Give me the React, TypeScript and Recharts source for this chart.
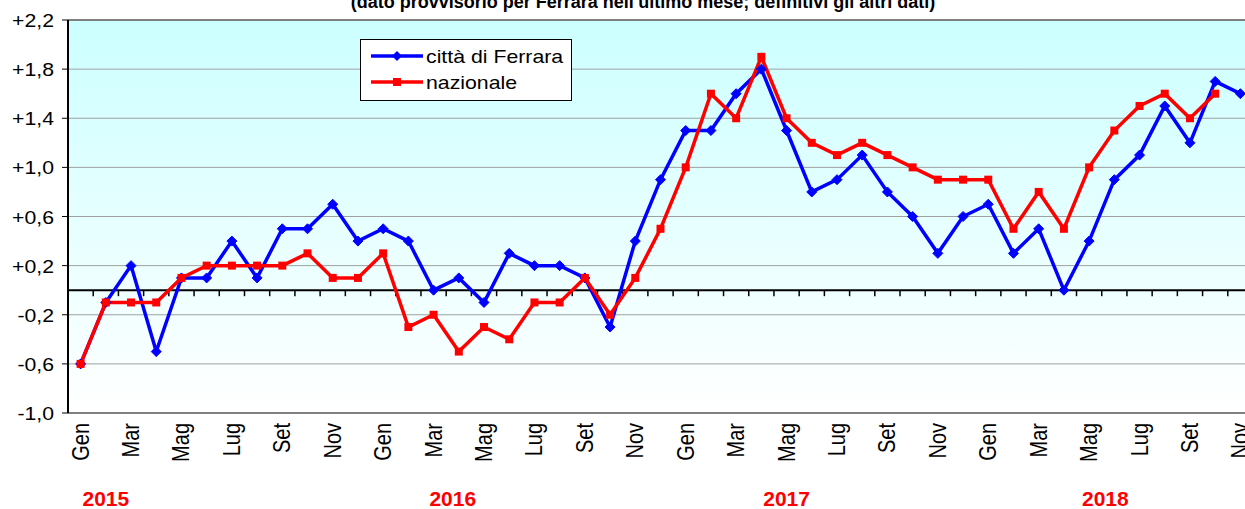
import { LineChart, Line, XAxis, YAxis, CartesianGrid, ReferenceLine } from 'recharts';

const monthNames = ['Gen', 'Feb', 'Mar', 'Apr', 'Mag', 'Giu', 'Lug', 'Ago', 'Set', 'Ott', 'Nov', 'Dic'];
const years = ['2015', '2016', '2017', '2018'];
// month index where each year label sits
const yearLabelIdx = [1, 15, 28, 41];

// variazioni tendenziali, Gen 2015 .. Nov 2018
const ferrara = [
  -0.6, -0.1, 0.2, -0.5, 0.1, 0.1, 0.4, 0.1, 0.5, 0.5, 0.7, 0.4,
  0.5, 0.4, 0.0, 0.1, -0.1, 0.3, 0.2, 0.2, 0.1, -0.3, 0.4, 0.9,
  1.3, 1.3, 1.6, 1.8, 1.3, 0.8, 0.9, 1.1, 0.8, 0.6, 0.3, 0.6,
  0.7, 0.3, 0.5, 0.0, 0.4, 0.9, 1.1, 1.5, 1.2, 1.7, 1.6,
];
const nazionale = [
  -0.6, -0.1, -0.1, -0.1, 0.1, 0.2, 0.2, 0.2, 0.2, 0.3, 0.1, 0.1,
  0.3, -0.3, -0.2, -0.5, -0.3, -0.4, -0.1, -0.1, 0.1, -0.2, 0.1, 0.5,
  1.0, 1.6, 1.4, 1.9, 1.4, 1.2, 1.1, 1.2, 1.1, 1.0, 0.9, 0.9,
  0.9, 0.5, 0.8, 0.5, 1.0, 1.3, 1.5, 1.6, 1.4, 1.6, null,
];
const yTicks = [-1.0, -0.6, -0.2, 0.2, 0.6, 1.0, 1.4, 1.8, 2.2];

const data = ferrara.map((v, i) => ({
  m: monthNames[i % 12],
  yr: yearLabelIdx.includes(i) ? years[Math.floor(i / 12)] : '',
  ferrara: v,
  nazionale: nazionale[i],
}));

const FONT = '"Liberation Sans", Arial, sans-serif';
const CHART_W = 1253;
const PLOT_LEFT = 68;
// half a category on each side, so points sit in the middle of their month
const HALF = (CHART_W - PLOT_LEFT) / data.length / 2;

const fmt = (v: number) => (v > 0 ? '+' : '') + v.toFixed(1).replace('.', ',');

const YTick = ({ x, y, payload }: any) => (
  <g transform={`translate(${x - 6},${y + 7}) scale(1.18,1)`}>
    <text textAnchor="end" fontSize={18} fill="#000" fontFamily={FONT}>
      {fmt(payload.value)}
    </text>
  </g>
);

const MonthTick = ({ x, y, payload }: any) => (
  <g transform={`translate(${x + 8},${y + 10}) scale(1.2,1) rotate(-90)`}>
    <text textAnchor="end" fontSize={20} fill="#000" fontFamily={FONT}>
      {payload.value}
    </text>
  </g>
);

// year labels are not exactly centred on a month in the original
const yearNudge: Record<string, number> = { '2016': -6, '2018': -9 };

const YearTick = ({ x, y, payload }: any) =>
  payload.value ? (
    <text
      x={x + (yearNudge[payload.value] || 0)}
      y={y + 35}
      textAnchor="middle"
      fontSize={21}
      fontWeight="bold"
      fill="#ff0000"
      fontFamily={FONT}
    >
      {payload.value}
    </text>
  ) : (
    <g />
  );

const ZeroLine = (p: any) => {
  const { x1, x2, y1 } = p;
  const n = data.length;
  const step = (x2 - x1) / n;
  return (
    <g>
      <line x1={x1} x2={x2} y1={y1} y2={y1} stroke="#000" strokeWidth={2} />
      {Array.from({ length: n + 1 }, (_, k) => (
        <line key={k} x1={x1 + k * step} x2={x1 + k * step} y1={y1} y2={y1 + 6} stroke="#000" strokeWidth={1.5} />
      ))}
    </g>
  );
};

const Diamond = ({ cx, cy, index }: any) =>
  cy == null ? (
    <g key={index} />
  ) : (
    <polygon
      key={index}
      points={`${cx},${cy - 5} ${cx + 5},${cy} ${cx},${cy + 5} ${cx - 5},${cy}`}
      fill="#0000ff"
      stroke="#0000ff"
    />
  );

const Square = ({ cx, cy, index }: any) =>
  cy == null ? <g key={index} /> : <rect key={index} x={cx - 4} y={cy - 4} width={8} height={8} fill="#ff0000" />;

function LegendBox() {
  const row = (color: string, label: string, marker: 'd' | 's') => (
    <div style={{ display: 'flex', alignItems: 'center', height: 26 }}>
      <svg width={56} height={12} style={{ flex: 'none' }}>
        <line x1={2} x2={54} y1={6} y2={6} stroke={color} strokeWidth={3.5} />
        {marker === 'd' ? (
          <polygon points="28,1 33,6 28,11 23,6" fill={color} />
        ) : (
          <rect x={24} y={2} width={8} height={8} fill={color} />
        )}
      </svg>
      <span style={{ display: 'inline-block', transform: 'scaleX(1.12)', transformOrigin: 'left center', fontSize: 19, marginLeft: 1 }}>
        {label}
      </span>
    </div>
  );
  return (
    <div
      style={{
        position: 'absolute',
        left: 360,
        top: 39,
        width: 212,
        height: 62,
        background: '#fff',
        border: '1px solid #000',
        fontFamily: FONT,
        padding: '3px 0 0 8px',
        boxSizing: 'border-box',
        lineHeight: 1,
      }}
    >
      {row('#0000ff', 'città di Ferrara', 'd')}
      {row('#ff0000', 'nazionale', 's')}
    </div>
  );
}

export default function App() {
  return (
    <div style={{ position: 'absolute', left: 0, top: 0, width: 1245, height: 509, overflow: 'hidden', background: '#fff' }}>
      <svg width={1245} height={20} style={{ position: 'absolute', left: 0, top: 0 }}>
        <text x={643} y={8} textAnchor="middle" fontSize={18} fontWeight="bold" fill="#000" fontFamily={FONT}>
          (dato provvisorio per Ferrara nell'ultimo mese; definitivi gli altri dati)
        </text>
      </svg>
      <LineChart width={CHART_W} height={509} data={data} margin={{ top: 20, right: 0, bottom: 0, left: 0 }}>
        <defs>
          <linearGradient id="bgGrad" x1="0" y1="0" x2="0" y2="1">
            <stop offset="0%" stopColor="#ccffff" />
            <stop offset="100%" stopColor="#ffffff" />
          </linearGradient>
        </defs>
        <CartesianGrid vertical={false} stroke="#a0a0a0" fill="url(#bgGrad)" fillOpacity={1} />
        <XAxis
          dataKey="m"
          padding={{ left: HALF, right: HALF }}
          interval={1}
          height={58}
          tickSize={0}
          tickMargin={0}
          tickLine={false}
          axisLine={{ stroke: '#808080', strokeWidth: 2 }}
          tick={<MonthTick />}
        />
        <XAxis
          xAxisId="year"
          dataKey="yr"
          padding={{ left: HALF, right: HALF }}
          interval={0}
          height={38}
          tickSize={0}
          tickMargin={0}
          tickLine={false}
          axisLine={false}
          tick={<YearTick />}
        />
        <YAxis
          width={68}
          domain={[-1, 2.2]}
          ticks={yTicks}
          interval={0}
          tickSize={6}
          tickLine={{ stroke: '#000' }}
          axisLine={{ stroke: '#000', strokeWidth: 2 }}
          tick={<YTick />}
        />
        <ReferenceLine y={2.2} stroke="#808080" strokeWidth={2} />
        <ReferenceLine y={0} shape={ZeroLine} />
        <Line
          dataKey="ferrara"
          stroke="#0000ff"
          strokeWidth={3.5}
          dot={Diamond}
          activeDot={false}
          isAnimationActive={false}
        />
        <Line
          dataKey="nazionale"
          stroke="#ff0000"
          strokeWidth={3.5}
          dot={Square}
          activeDot={false}
          isAnimationActive={false}
        />
      </LineChart>
      <LegendBox />
    </div>
  );
}
